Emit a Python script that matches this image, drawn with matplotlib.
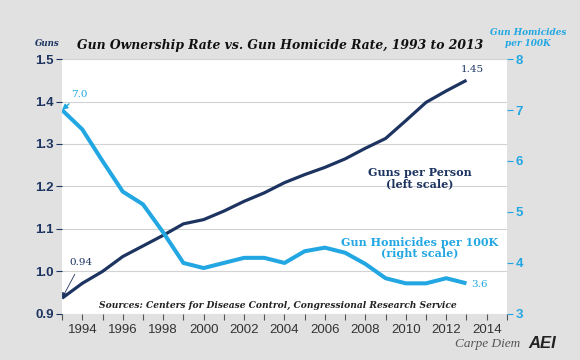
import matplotlib
matplotlib.use("Agg")
import matplotlib.pyplot as plt
from matplotlib.ticker import MultipleLocator

years = list(range(1993, 2014))
guns_per_person = [0.937, 0.972, 1.000, 1.035, 1.060, 1.085, 1.112, 1.122, 1.142, 1.165,
                   1.185, 1.209, 1.228, 1.245, 1.265, 1.290, 1.313, 1.355, 1.398, 1.425, 1.450]
homicides_per_100k = [7.0, 6.62, 6.0, 5.4, 5.15, 4.6, 4.0, 3.9, 4.0, 4.1,
                      4.1, 4.0, 4.23, 4.3, 4.2, 3.98, 3.7, 3.6, 3.6, 3.7, 3.6]
left_ticks = [0.9, 1.0, 1.1, 1.2, 1.3, 1.4, 1.5]
right_ticks = [3, 4, 5, 6, 7, 8]
x_labels = list(range(1994, 2015, 2))

NAVY = "#1d3461"
SKY = "#22a7e2"
BG = "#e1e1e1"
SERIF = "DejaVu Serif"
SANS = "Liberation Sans"

fig = plt.figure(figsize=(5.8, 3.6), dpi=100, facecolor=BG)
ax = fig.add_axes([0.107, 0.128, 0.767, 0.708])
ax.set_facecolor("white")
ax2 = ax.twinx()

ax.plot(years, guns_per_person, color=NAVY, lw=2.3, solid_capstyle="butt", zorder=3)
ax2.plot(years, homicides_per_100k, color=SKY, lw=2.9, solid_capstyle="butt", zorder=3)

ax.set_xlim(1993, 2015)
ax.set_ylim(0.9, 1.5)
ax2.set_ylim(3, 8)
ax.set_yticks(left_ticks)
ax.set_yticklabels([f"{v:.1f}" for v in left_ticks])
ax2.set_yticks(right_ticks)
ax.set_xticks(x_labels)
ax.xaxis.set_minor_locator(MultipleLocator(1))
ax.grid(axis="y", color="#d2d2d2", lw=0.8)
ax.set_axisbelow(True)

for a in (ax, ax2):
    for s in a.spines.values():
        s.set_visible(False)
ax.tick_params(axis="x", which="both", direction="out", length=4, width=0.8,
               color="#555555", labelsize=9.5, labelcolor="#333333", pad=3)
ax.tick_params(axis="y", direction="out", length=4, width=0.8, color=NAVY,
               labelsize=9.5, labelcolor=NAVY, pad=2)
ax2.tick_params(axis="y", direction="out", length=4, width=0.8, color=SKY,
                labelsize=9.5, labelcolor=SKY, pad=2)
for lab in ax.get_xticklabels():
    lab.set_fontfamily(SANS)
for lab in ax.get_yticklabels() + ax2.get_yticklabels():
    lab.set_fontfamily(SANS)
    lab.set_fontweight("bold")

# annotations
ax2.annotate("7.0", xy=(years[0], homicides_per_100k[0]), xytext=(1993.85, 7.3),
             color=SKY, fontsize=7.5, family=SERIF, ha="center", va="center",
             arrowprops=dict(arrowstyle="-|>", color=SKY, lw=1.0, shrinkA=2, shrinkB=0,
                             mutation_scale=8))
ax.annotate("0.94", xy=(years[0], guns_per_person[0]), xytext=(1993.95, 1.022),
            color=NAVY, fontsize=7.5, family=SERIF, ha="center", va="center",
            arrowprops=dict(arrowstyle="-|>", color=NAVY, lw=0.6, shrinkA=4, shrinkB=0,
                            mutation_scale=8))
ax.text(2013.3, 1.476, "1.45", color=NAVY, fontsize=7.5, family=SERIF,
        ha="center", va="center")
ax2.text(years[-1] + 0.25, homicides_per_100k[-1] - 0.02, "3.6", color=SKY, fontsize=7.5,
         family=SERIF, ha="left", va="center")

ax.text(2010.7, 1.22, "Guns per Person\n(left scale)", color=NAVY, fontsize=8,
        family=SERIF, fontweight="bold", ha="center", va="center", linespacing=1.0)
ax2.text(2010.7, 4.3, "Gun Homicides per 100K\n(right scale)", color=SKY, fontsize=8,
         family=SERIF, fontweight="bold", ha="center", va="center", linespacing=1.0)
ax.text(0.485, 0.035, "Sources: Centers for Disease Control, Congressional Research Service",
        transform=ax.transAxes, color="#222222", fontsize=6.6, family=SERIF,
        fontweight="bold", style="italic", ha="center", va="center")

fig.text(0.483, 0.873, "Gun Ownership Rate vs. Gun Homicide Rate, 1993 to 2013",
         color="#111111", fontsize=8.9, family=SERIF, fontweight="bold", style="italic",
         ha="center", va="center")
fig.text(0.081, 0.878, "Guns", color=NAVY, fontsize=6.2, family=SERIF, fontweight="bold",
         style="italic", ha="center", va="center")
fig.text(0.91, 0.895, "Gun Homicides\nper 100K", color=SKY, fontsize=6.4, family=SERIF,
         fontweight="bold", style="italic", ha="center", va="center", linespacing=1.35)
fig.text(0.84, 0.045, "Carpe Diem", color="#555555", fontsize=9.5, family="Liberation Serif",
         style="italic", ha="center", va="center")
fig.text(0.935, 0.047, "AEI", color="#222222", fontsize=12, family=SANS, fontweight="bold",
         style="italic", ha="center", va="center")

fig.savefig("out.png", dpi=100, facecolor=BG)
